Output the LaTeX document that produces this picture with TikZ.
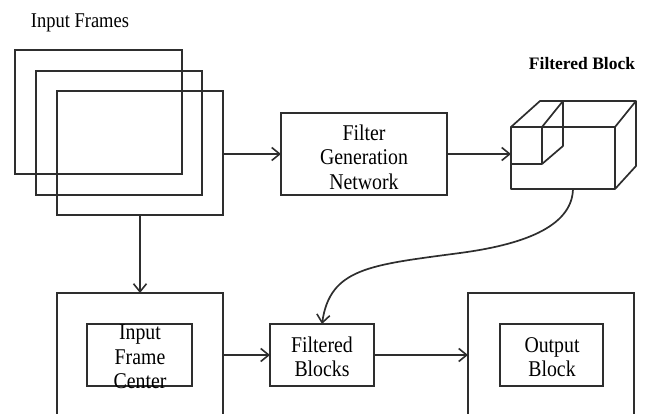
\documentclass[tikz,border=0pt]{standalone}
\usepackage{fontspec}
\setmainfont[FakeStretch=0.88]{Liberation Serif}
\newfontfamily\labelfont{Liberation Serif}
\usetikzlibrary{arrows.meta}
\tikzset{
  ln/.style={line width=1.7pt, draw=black!82},
  box/.style={ln, rectangle, inner sep=0pt, outer sep=0pt},
  txt/.style={align=center, inner sep=0pt, font=\fontsize{22.5}{24.5}\selectfont},
  arr/.style={ln, -{Straight Barb[length=8pt,width=13pt,line width=1.6pt]}},
}
\begin{document}
\begin{tikzpicture}[x=1pt,y=-1pt]
\useasboundingbox (0,0) rectangle (649,414);
\clip (0,0) rectangle (649,414);
% title
\node[inner sep=0pt, font=\fontsize{21}{24}\selectfont] (title) at (80,23) {Input Frames};
% frames
\node[box, minimum width=167pt, minimum height=124pt] (f1) at (98.5,112) {};
\node[box, minimum width=166pt, minimum height=124pt] (f2) at (119,133) {};
\node[box, minimum width=166pt, minimum height=124pt] (f3) at (140,153) {};
% filter generation network
\node[box, minimum width=166pt, minimum height=82pt] (fgn) at (364,154) {};
\node[txt] (fgntext) at (364,157) {Filter\\Generation\\Network};
% cube
\coordinate (cubein) at (511,154);
\coordinate (cubebot) at (573,189);
\coordinate (curvemid) at (460,253);
\draw[ln, line join=round] (511,127) rectangle (615,189);
\draw[ln, line join=round] (511,127) -- (540,101) -- (636,101) -- (636,166) -- (615,189);
\draw[ln] (615,127) -- (636,101);
\draw[ln, line join=round] (511,164) -- (542,164) -- (542,127) -- (563,101) -- (563,146) -- (542,164);
\node[inner sep=0pt, font=\labelfont\bfseries\fontsize{17.5}{20}\selectfont] (cubelabel) at (582,64) {Filtered Block};
% bottom row
\node[box, minimum width=166pt, minimum height=150pt] (ifcout) at (140,368) {};
\node[box, minimum width=105pt, minimum height=62pt] (ifcin) at (139.5,355) {};
\node[txt] (ifctext) at (140,357) {Input\\Frame\\Center};
\node[box, minimum width=104pt, minimum height=62pt] (fb) at (322,355) {};
\node[txt] (fbtext) at (322,357) {Filtered\\Blocks};
\node[box, minimum width=166pt, minimum height=150pt] (outout) at (551,368) {};
\node[box, minimum width=103pt, minimum height=62pt] (outin) at (551.5,355) {};
\node[txt] (outtext) at (552,357) {Output\\Block};
% connectors
\draw[arr] (f3.east |- fgn.west) -- (fgn.west);
\draw[arr] (fgn.east) -- (cubein);
\draw[arr] (f3.south) -- (ifcout.north);
\draw[arr] (ifcout.east |- fb.west) -- (fb.west);
\draw[arr] (fb.east) -- (fb.east -| outout.west);
\draw[arr] (cubebot) .. controls (572,228) and (520,245) .. (curvemid)
  .. controls (370,265) and (330,268) .. (fb.north);
\end{tikzpicture}
\end{document}
